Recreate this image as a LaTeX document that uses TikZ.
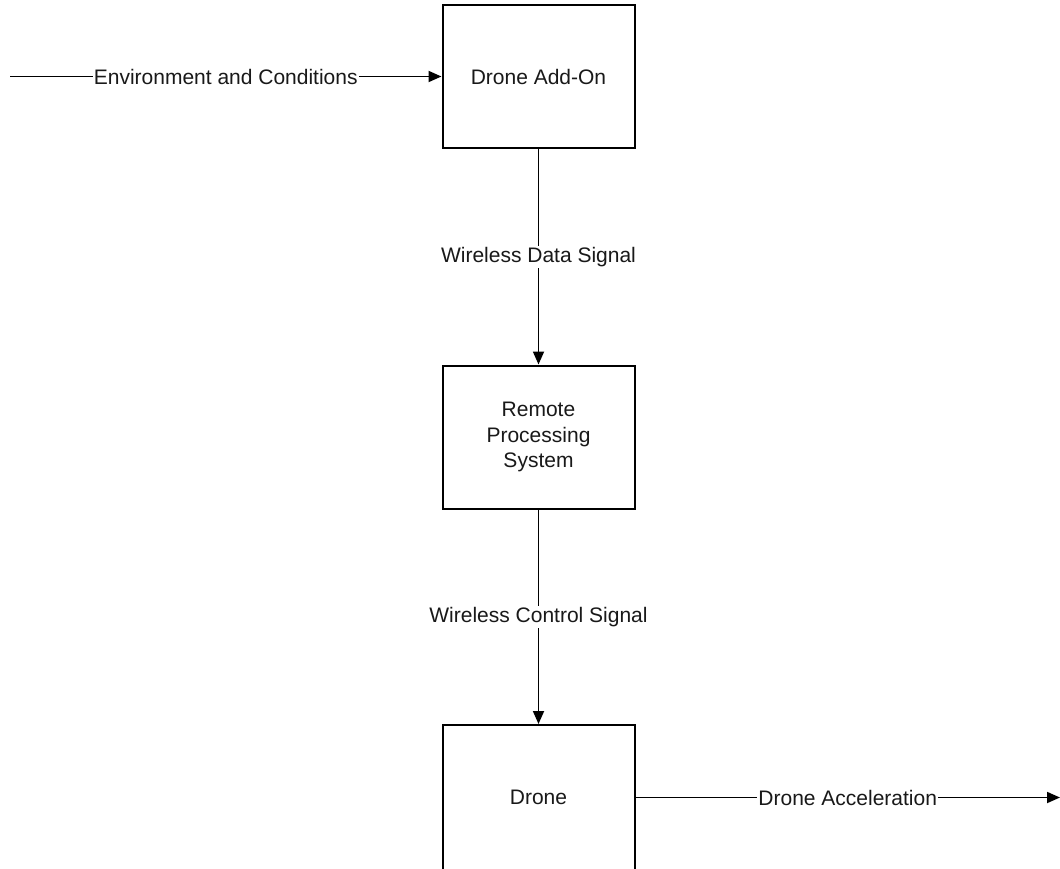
\documentclass[tikz,border=0pt]{standalone}
\usepackage{fontspec}
\setmainfont{Liberation Sans}
\usetikzlibrary{arrows.meta}
\begin{document}
\begin{tikzpicture}[x=1pt,y=1pt,
  blockbox/.style={draw=black,line width=2pt,fill=white,minimum width=192pt,minimum height=143pt,inner sep=0pt,align=center,text=black!90,font=\fontsize{21}{25.5}\selectfont},
  flowline/.style={draw=black,line width=1.8pt,-{Triangle[length=13pt,width=11pt]}},
  flowlabel/.style={fill=white,inner sep=1pt,text=black!90,font=\fontsize{21}{25.5}\selectfont}]
\useasboundingbox (0,0) rectangle (1060,-869);
\clip (0,0) rectangle (1060,-869);
\node[blockbox] (addon) at (538.5,-76.5) {Drone Add-On};
\node[blockbox] (rps) at (538.5,-437) {Remote\\Processing\\System};
\node[blockbox,minimum height=145pt] (drone) at (538.5,-797.5) {Drone};
\coordinate (in) at (10,-76.5);
\coordinate (out) at (1060,-797.5);
\draw[flowline] (in) -- node[flowlabel]{Environment and Conditions} (addon.west);
\draw[flowline] (addon.south) -- node[flowlabel]{Wireless Data Signal} (rps.north);
\draw[flowline] (rps.south) -- node[flowlabel]{Wireless Control Signal} (drone.north);
\draw[flowline] (drone.east) -- node[flowlabel]{Drone Acceleration} (out);
\end{tikzpicture}
\end{document}
